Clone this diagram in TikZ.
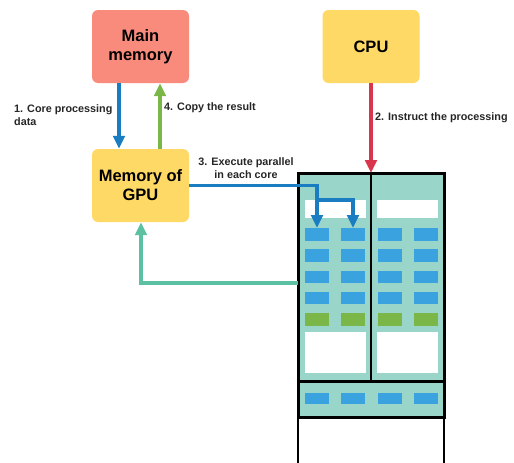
\documentclass[tikz,border=0pt]{standalone}
\usepackage{fontspec}
\setmainfont{Liberation Sans}
\usetikzlibrary{arrows.meta,calc}
\definecolor{salmon}{HTML}{F98B7D}
\definecolor{ylw}{HTML}{FFD966}
\definecolor{tealfill}{HTML}{9AD5CA}
\definecolor{cellblue}{HTML}{3AA2DE}
\definecolor{cellgreen}{HTML}{7AB648}
\definecolor{arrblue}{HTML}{1A7DC2}
\definecolor{arrgreen}{HTML}{7AB648}
\definecolor{arrred}{HTML}{D9354C}
\definecolor{arrteal}{HTML}{5CC0A3}
\tikzset{
  box/.style={rounded corners=6pt, minimum width=97pt, minimum height=73pt, align=center, font=\fontsize{16.5}{19}\selectfont\bfseries, inner sep=0pt},
  lbl/.style={font=\fontsize{10.8}{13.5}\selectfont\bfseries, inner sep=0pt, text=black!85},
  arr/.style={line width=3.5pt, -{Triangle[length=13pt,width=11.5pt]}},
  core/.style={fill=cellblue, draw=none},
  gcore/.style={fill=cellgreen, draw=none},
  wbar/.style={fill=white, draw=none},
}
\begin{document}
\begin{tikzpicture}[x=1pt,y=-1pt]
\useasboundingbox (0,0) rectangle (514,463);
\begin{scope}
\clip (0,0) rectangle (514,463);
% GPU body
\fill[tealfill] (298,173) rectangle (444,417);
\fill[white] (298,417) rectangle (444,470);
\node[wbar, minimum width=61pt, minimum height=18pt, inner sep=0pt] (wl) at (335.5,209) {};
\node[wbar, minimum width=61pt, minimum height=18pt, inner sep=0pt] (wr) at (407.5,209) {};
\node[wbar, minimum width=61pt, minimum height=41pt, inner sep=0pt] (bl) at (335.5,352.5) {};
\node[wbar, minimum width=61pt, minimum height=41pt, inner sep=0pt] (br) at (407.5,352.5) {};
\foreach \r/\y in {1/234.5,2/255.5,3/277,4/298} {
  \foreach \c/\x in {1/317,2/353,3/389.5,4/426} {
    \node[core, minimum width=24pt, minimum height=12.5pt, inner sep=0pt] (c\r\c) at (\x,\y) {};
  }
}
\foreach \c/\x in {1/317,2/353,3/389.5,4/426} {
  \node[gcore, minimum width=24pt, minimum height=12.5pt, inner sep=0pt] (g\c) at (\x,319.5) {};
  \node[core, minimum width=24pt, minimum height=11pt, inner sep=0pt] (b\c) at (\x,398.5) {};
}
\draw[line width=3pt] (298,173) rectangle (444,381);
\draw[line width=2.5pt] (371,173) -- (371,381);
\draw[line width=3pt] (298,381) rectangle (444,417);
\draw[line width=2.5pt] (298,417) -- (298,470) (444,417) -- (444,470);
\end{scope}
\coordinate (gputop) at (371,173);
\coordinate (gpuleft) at (298,283);
\coordinate (tcorner) at (141,283);
\coordinate (split) at (317,200);
\coordinate (bcorner) at (317,185.5);
\coordinate (split2) at (353,200);
% boxes
\node[box, fill=salmon] (mm) at (140.5,46.5) {Main\\memory};
\node[box, fill=ylw] (gm) at (140.5,185.5) {Memory of\\GPU};
\node[box, fill=ylw] (cpu) at (371,46.5) {CPU};
% arrows
\draw[arr, arrblue] ([xshift=-21.5pt]mm.south) -- ([xshift=-21.5pt]gm.north);
\draw[arr, arrgreen] ([xshift=19.5pt]gm.north) -- ([xshift=19.5pt]mm.south);
\draw[arr, arrred] (cpu.south) -- (gputop);
\draw[line width=3.5pt, arrblue] (gm.east) -- (bcorner) -- (split);
\draw[arr, arrblue] (split) -- (c11.north);
\draw[arr, arrblue] (split) -- (split2) -- (c12.north);
\draw[arr, arrteal] (gpuleft) -- (tcorner) -- (tcorner |- gm.south);
% labels
\node[lbl, anchor=west, align=left] (l1) at (14,115) {1. Core processing\\data};
\node[lbl, anchor=west] (l4) at (164,108) {4. Copy the result};
\node[lbl, anchor=west] (l2) at (375,118) {2. Instruct the processing};
\node[lbl, align=center] (l3) at (246,168) {3. Execute parallel\\in each core};
\end{tikzpicture}
\end{document}
